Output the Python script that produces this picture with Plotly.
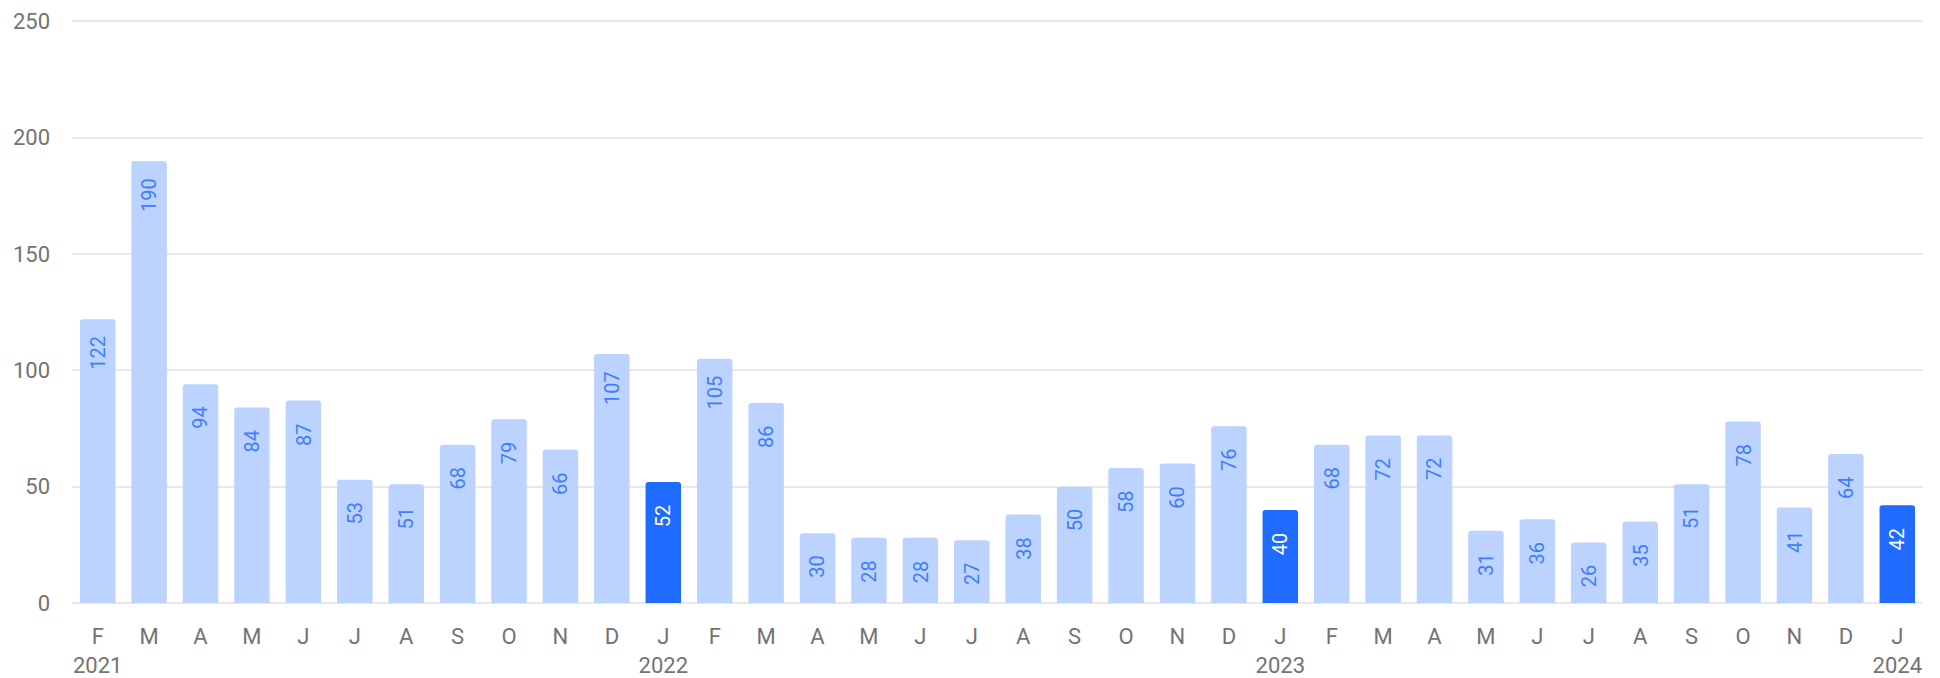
import plotly.graph_objects as go

months = ["2021-02", "2021-03", "2021-04", "2021-05", "2021-06", "2021-07", "2021-08",
          "2021-09", "2021-10", "2021-11", "2021-12", "2022-01", "2022-02", "2022-03",
          "2022-04", "2022-05", "2022-06", "2022-07", "2022-08", "2022-09", "2022-10",
          "2022-11", "2022-12", "2023-01", "2023-02", "2023-03", "2023-04", "2023-05",
          "2023-06", "2023-07", "2023-08", "2023-09", "2023-10", "2023-11", "2023-12",
          "2024-01"]
values = [122, 190, 94, 84, 87, 53, 51, 68, 79, 66, 107, 52, 105, 86, 30, 28, 28, 27,
          38, 50, 58, 60, 76, 40, 68, 72, 72, 31, 36, 26, 35, 51, 78, 41, 64, 42]
month_letters = ["J", "F", "M", "A", "M", "J", "J", "A", "S", "O", "N", "D"]
y_ticks = [0, 50, 100, 150, 200, 250]

LIGHT = "#bcd3ff"
DARK = "#1f6bff"
LIGHT_TEXT = "#3d7eff"
GRAY = "#737373"
GRID = "#e8e8e8"
FONT = "Roboto, Arial, sans-serif"

ticktext = []
bar_colors = []
text_colors = []
for i, m in enumerate(months):
    y, mo = m.split("-")
    letter = month_letters[int(mo) - 1]
    if i == 0 or mo == "01":
        ticktext.append(f"{letter}<br>{y}")
    else:
        ticktext.append(letter)
    jan = mo == "01"
    bar_colors.append(DARK if jan else LIGHT)
    text_colors.append("#ffffff" if jan else LIGHT_TEXT)

fig = go.Figure()
fig.add_trace(go.Bar(
    x=months, y=values,
    marker=dict(color=bar_colors, cornerradius=3, line=dict(width=0)),
    hoverinfo="skip",
))

for m, v, c in zip(months, values, text_colors):
    fig.add_annotation(x=m, y=v, yshift=-34, text=str(v), textangle=-90,
                       showarrow=False, font=dict(family=FONT, size=20, color=c))

fig.update_layout(
    width=1940, height=678,
    margin=dict(l=72, r=17, t=19, b=75),
    paper_bgcolor="white", plot_bgcolor="white",
    bargap=0.31,
    showlegend=False,
    hovermode=False,
    font=dict(family=FONT, size=22, color=GRAY),
)
fig.update_xaxes(type="category", tickmode="array", tickvals=months, ticktext=ticktext,
                 showgrid=False, showline=False, ticks="", ticklabelstandoff=18,
                 automargin=False,
                 tickfont=dict(family=FONT, size=22, color=GRAY))
fig.update_yaxes(range=[0, 251], tickvals=y_ticks, showgrid=True, gridcolor=GRID,
                 gridwidth=2, zeroline=True, zerolinecolor=GRID, zerolinewidth=2,
                 showline=False, ticks="", ticklabelstandoff=21, automargin=False,
                 tickfont=dict(family=FONT, size=22, color=GRAY))

fig.write_html("out.html", config={"displayModeBar": False},
               post_script="document.body.style.margin='0';document.body.style.overflow='hidden';")
